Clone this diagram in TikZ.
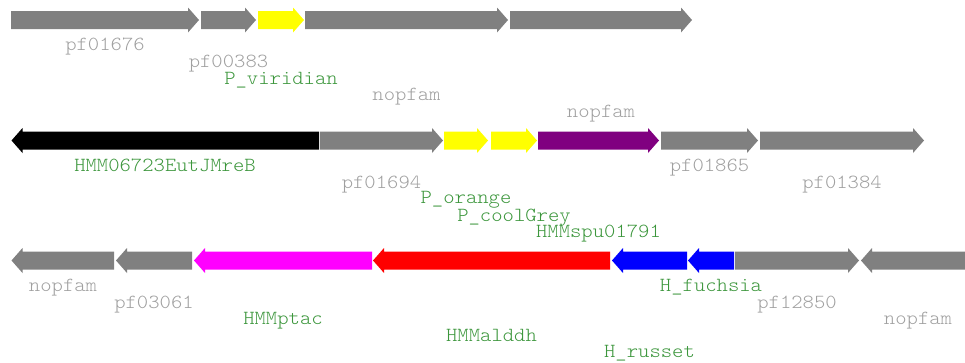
\documentclass[tikz,border=0pt]{standalone}
\usepackage{fontspec}
\setmonofont[FakeStretch=1.08]{Latin Modern Mono Light}
\definecolor{labgrey}{RGB}{160,160,160}
\definecolor{labgreen}{RGB}{60,150,60}
\definecolor{genegrey}{RGB}{128,128,128}
\definecolor{genepurple}{RGB}{128,0,128}
\definecolor{geneyellow}{RGB}{255,255,0}
\definecolor{genemagenta}{RGB}{255,0,255}
\definecolor{genered}{RGB}{255,0,0}
\definecolor{geneblue}{RGB}{0,0,255}
% forward gene: #1 start x, #2 tip x, #3 centre y, #4 colour
\newcommand\fwdgene[4]{%
  \fill[#4] (#1,#3-9) -- (#2-11,#3-9) -- (#2-11,#3-12.5) -- (#2,#3)
    -- (#2-11,#3+12.5) -- (#2-11,#3+9) -- (#1,#3+9) -- cycle;}
% reverse gene: #1 tip x, #2 end x, #3 centre y, #4 colour
\newcommand\revgene[4]{%
  \fill[#4] (#1,#3) -- (#1+11,#3-12.5) -- (#1+11,#3-9) -- (#2,#3-9)
    -- (#2,#3+9) -- (#1+11,#3+9) -- (#1+11,#3+12.5) -- cycle;}
\tikzset{
  lab/.style={font=\ttfamily\fontsize{20}{20}\selectfont, inner sep=0pt, anchor=base},
  pfam/.style={lab, text=labgrey},
  hmm/.style={lab, text=labgreen}
}
\begin{document}
\begin{tikzpicture}[x=1pt, y=-1pt]
  \useasboundingbox (0,0) rectangle (965,362);
  \clip (0,0) rectangle (965,362);

  % first locus
  \fwdgene{11}{199}{20}{genegrey}
  \fwdgene{201}{256}{20}{genegrey}
  \fwdgene{258}{304}{20}{geneyellow}
  \fwdgene{305}{508}{20}{genegrey}
  \fwdgene{510}{692}{20}{genegrey}

  \node[pfam] (l1a) at (105,50) {pf01676};
  \node[pfam] (l1b) at (228.5,67.5) {pf00383};
  \node[hmm]  (l1c) at (281,84) {P\_viridian};
  \node[pfam] (l1d) at (406.5,100.5) {nopfam};
  \node[pfam] (l1e) at (601,117) {nopfam};

  % second locus
  \revgene{11.5}{319}{140.5}{black}
  \fwdgene{320}{443}{140.5}{genegrey}
  \fwdgene{444}{488}{140.5}{geneyellow}
  \fwdgene{491}{537}{140.5}{geneyellow}
  \fwdgene{538}{659}{140.5}{genepurple}
  \fwdgene{661}{758}{140.5}{genegrey}
  \fwdgene{760}{924}{140.5}{genegrey}

  \node[hmm]  (l2a) at (165,171) {HMM06723EutJMreB};
  \node[pfam] (l2b) at (381.5,188) {pf01694};
  \node[hmm]  (l2c) at (466,203.5) {P\_orange};
  \node[hmm]  (l2d) at (514,221.5) {P\_coolGrey};
  \node[hmm]  (l2e) at (598.5,237.5) {HMMspu01791};
  \node[pfam] (l2f) at (709.5,171) {pf01865};
  \node[pfam] (l2g) at (842,188) {pf01384};

  % third locus
  \revgene{11.5}{114}{260.5}{genegrey}
  \revgene{116}{192}{260.5}{genegrey}
  \revgene{194}{372}{260.5}{genemagenta}
  \revgene{373}{610}{260.5}{genered}
  \revgene{612}{687}{260.5}{geneblue}
  \revgene{688}{734}{260.5}{geneblue}
  \fwdgene{735}{859}{260.5}{genegrey}
  \revgene{861}{975}{260.5}{genegrey}

  \node[pfam] (l3a) at (63,291) {nopfam};
  \node[pfam] (l3b) at (154,308) {pf03061};
  \node[hmm]  (l3c) at (283,324.5) {HMMptac};
  \node[hmm]  (l3d) at (491.5,341) {HMMalddh};
  \node[hmm]  (l3e) at (649.5,357.5) {H\_russet};
  \node[hmm]  (l3f) at (711,291) {H\_fuchsia};
  \node[pfam] (l3g) at (797,308) {pf12850};
  \node[pfam] (l3h) at (918,324.5) {nopfam};
\end{tikzpicture}
\end{document}
